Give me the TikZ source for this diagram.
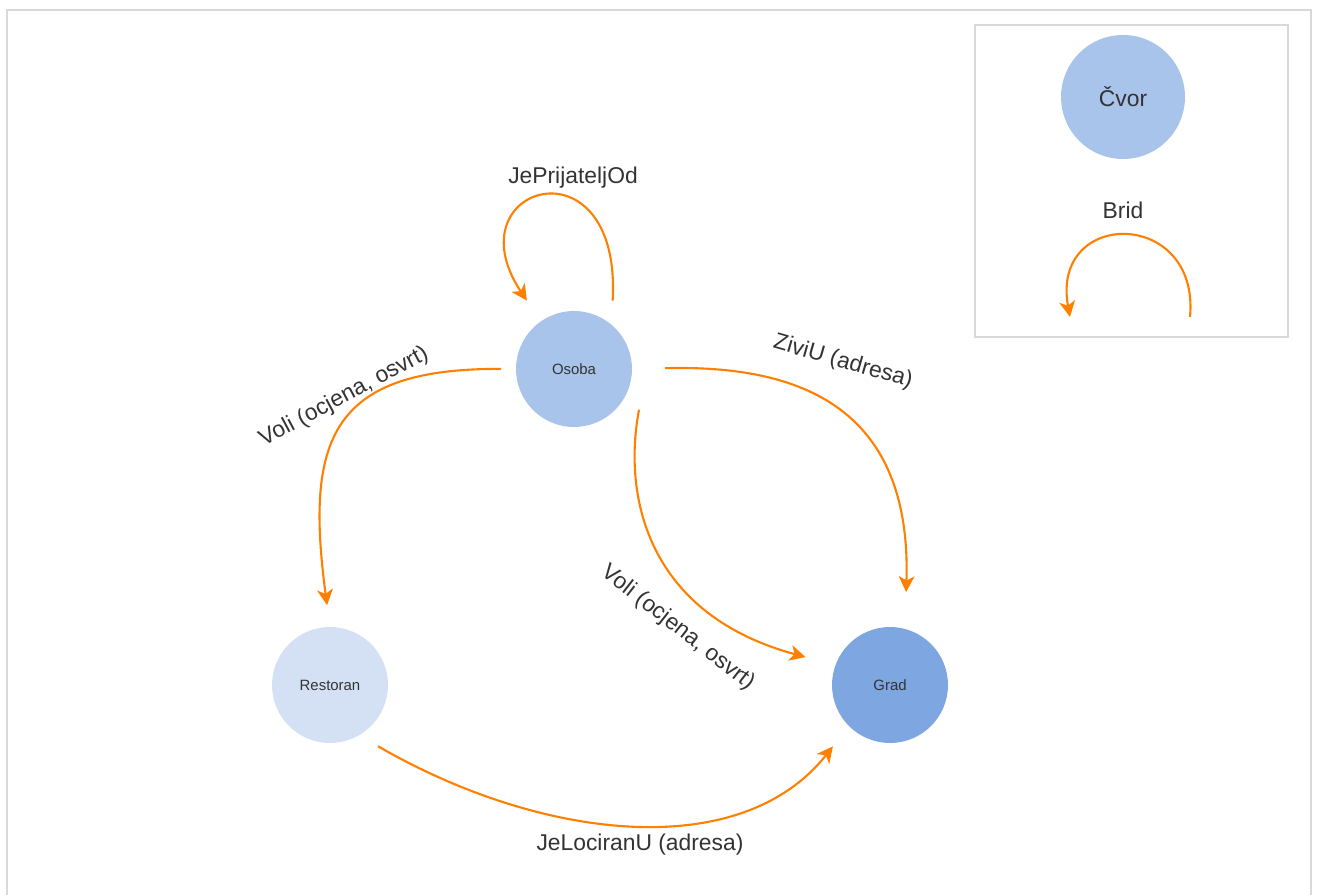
\documentclass[tikz,border=0pt]{standalone}
\usepackage{fontspec}
\setmainfont{Liberation Sans}
\usetikzlibrary{arrows.meta,shapes,positioning}
\definecolor{edgeorange}{HTML}{FF8000}
\definecolor{nodeblue}{HTML}{A9C4EB}
\definecolor{nodelight}{HTML}{D4E1F5}
\definecolor{nodedark}{HTML}{7EA6E0}
\definecolor{framegray}{HTML}{D9D9D9}
\definecolor{textgray}{HTML}{333333}

\begin{document}
\begin{tikzpicture}[x=0.02cm, y=-0.02cm]
  \useasboundingbox (0,0) rectangle (1317,895);
  \tikzset{VertexStyle/.style = {shape          = circle,
                                 fill           = nodeblue,
                                 text           = textgray,
                                 inner sep      = 0pt,
                                 outer sep      = 0pt,
                                 minimum size   = 2.32cm,
                                 font           = \fontsize{8.5}{10}\selectfont}}
  \tikzset{EdgeStyle/.style   = {draw           = edgeorange,
                                 line width     = 1.2pt,
                                 -{Stealth[length=9pt,width=9pt,inset=2.5pt]}}}
  \tikzset{LabelStyle/.style  = {text           = textgray,
                                 inner sep      = 0pt,
                                 font           = \fontsize{13}{15}\selectfont}}
  \tikzset{FrameStyle/.style  = {draw           = framegray,
                                 line width     = 1.1pt}}
  % frame and legend
     \draw[FrameStyle] (7,895) -- (7,10) -- (1311,10) -- (1311,895);
     \node[FrameStyle, minimum width = 6.26cm, minimum height = 6.24cm,
           line width = 0.8pt] (legend) at (1131.5,181) {};
     \node[VertexStyle, minimum size = 2.48cm,
           font = \fontsize{13}{15}\selectfont] (cvor) at (1123,97) {Čvor};
     \node[LabelStyle] (brid) at (1123,210) {Brid};
     \coordinate (bridStart) at (1190,317);
     \coordinate (bridEnd) at (1070,317);
     \draw[EdgeStyle] (bridStart) .. controls (1200,208) and (1050,208) .. (bridEnd);
  % nodes
     \node[VertexStyle] (osoba) at (574,369) {Osoba};
     \node[VertexStyle, fill = nodelight] (restoran) at (330,685) {Restoran};
     \node[VertexStyle, fill = nodedark] (grad) at (890,685) {Grad};
  % edges
     \draw[EdgeStyle, shorten < = 0.48cm, shorten > = 0.5cm]
       (osoba.50) .. controls (622,135) and (450,185) .. (osoba.125);
     \draw[EdgeStyle, shorten < = 0.3cm, shorten > = 0.44cm]
       (osoba.west) .. controls (330,368) and (305,440) .. (restoran.north);
     \draw[EdgeStyle, shorten < = 0.66cm, shorten > = 0.74cm]
       (osoba.east) .. controls (790,365) and (912,400) .. (grad.75);
     \draw[EdgeStyle, shorten > = 0.62cm]
       ([xshift=9pt, yshift=-5.7pt]osoba.-32) .. controls (622,500) and (650,615) .. (grad.160);
     \draw[EdgeStyle, shorten < = 0.44cm, shorten > = 0.52cm]
       (restoran.-60) .. controls (540,840) and (740,864) .. (grad.-135);
  % labels
     \node[LabelStyle] (lPrijatelj) at (573,178) {JePrijateljOd};
     \node[LabelStyle, rotate = 28] (lVoliRestoran) at (344,397) {Voli (ocjena, osvrt)};
     \node[LabelStyle, rotate = -16] (lZiviU) at (843,362) {ZiviU (adresa)};
     \node[LabelStyle, rotate = -38] (lVoliGrad) at (678,628) {Voli (ocjena, osvrt)};
     \node[LabelStyle] (lLociran) at (640,845) {JeLociranU (adresa)};
\end{tikzpicture}
\end{document}
